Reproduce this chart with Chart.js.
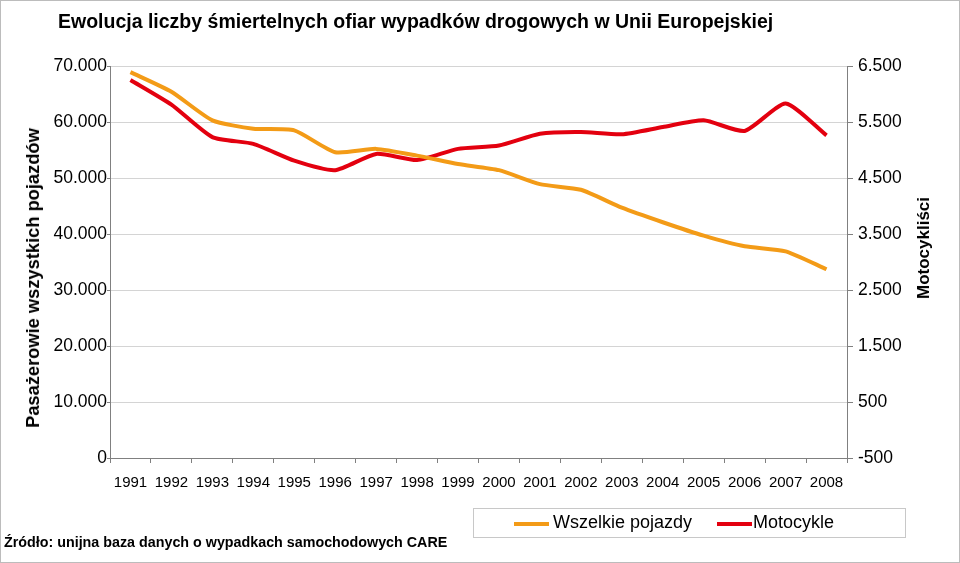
<!DOCTYPE html>
<html>
<head>
<meta charset="utf-8">
<script src="https://cdn.jsdelivr.net/npm/chart.js@4.4.1/dist/chart.umd.min.js"></script>
<style>
  html, body { margin: 0; padding: 0; background: #fff; }
  body { width: 960px; height: 563px; position: relative; overflow: hidden; font-family: "Liberation Sans", Arial, sans-serif; }
  #frame { position: absolute; left: 0; top: 0; width: 958px; height: 561px; border: 1px solid #bcbcbc; pointer-events: none; }
  #c { position: absolute; left: 0; top: 0; }
  .txt { position: absolute; white-space: nowrap; color: #000; }
  #title { left: 58px; top: 10px; font-size: 19.5px; font-weight: bold; }
  #source { left: 4px; top: 534px; font-size: 14.3px; font-weight: bold; }
  #ytitleL { left: 33px; top: 278px; font-size: 18.3px; font-weight: bold; transform: translate(-50%, -50%) rotate(-90deg); }
  #ytitleR { left: 924px; top: 248px; font-size: 17px; font-weight: bold; transform: translate(-50%, -50%) rotate(-90deg); }
  #legend { position: absolute; left: 473px; top: 508px; width: 433px; height: 30px; border: 1px solid #c8c8c8; box-sizing: border-box; }
  .li { position: absolute; top: 3px; font-size: 18px; line-height: 21px; }
  .sw { position: absolute; width: 35px; height: 4px; top: 13px; }
</style>
</head>
<body>
<canvas id="c" width="960" height="563"></canvas>
<div class="txt" id="title">Ewolucja liczby śmiertelnych ofiar wypadków drogowych w Unii Europejskiej</div>
<div class="txt" id="ytitleL">Pasażerowie wszystkich pojazdów</div>
<div class="txt" id="ytitleR">Motocykliści</div>
<div id="legend">
  <div class="sw" style="left:40px;background:#f39b17;"></div>
  <div class="li txt" style="left:79px;">Wszelkie pojazdy</div>
  <div class="sw" style="left:243px;background:#e3000f;"></div>
  <div class="li txt" style="left:279px;">Motocykle</div>
</div>
<div class="txt" id="source">Źródło: unijna baza danych o wypadkach samochodowych CARE</div>
<script>
const years = ['1991','1992','1993','1994','1995','1996','1997','1998','1999','2000','2001','2002','2003','2004','2005','2006','2007','2008'];
const allVehicles = [68900, 65400, 60300, 58800, 58500, 54600, 55200, 54000, 52500, 51400, 48900, 47900, 44700, 42100, 39700, 37800, 36900, 33700];
const motorcycles = [6250, 5810, 5230, 5110, 4810, 4640, 4930, 4820, 5020, 5080, 5290, 5320, 5280, 5410, 5530, 5340, 5830, 5260];
const leftTicks = [0, 10000, 20000, 30000, 40000, 50000, 60000, 70000];
const rightTicks = [-500, 500, 1500, 2500, 3500, 4500, 5500, 6500];

function fmt(v) {
  const neg = v < 0;
  let s = String(Math.abs(Math.round(v)));
  s = s.replace(/\B(?=(\d{3})+(?!\d))/g, '.');
  return (neg ? '-' : '') + s;
}

const FONT = '"Liberation Sans", Arial, sans-serif';

new Chart(document.getElementById('c'), {
  type: 'line',
  data: {
    labels: years,
    datasets: [
      { label: 'Wszelkie pojazdy', data: allVehicles, yAxisID: 'yL', borderColor: '#f39b17', borderWidth: 4, pointRadius: 0, tension: 0.2, fill: false },
      { label: 'Motocykle', data: motorcycles, yAxisID: 'yR', borderColor: '#e3000f', borderWidth: 4, pointRadius: 0, tension: 0.2, fill: false }
    ]
  },
  options: {
    responsive: false,
    animation: false,
    devicePixelRatio: 1,
    layout: { padding: { left: 0, right: 0, top: 66, bottom: 0 } },
    plugins: { legend: { display: false }, title: { display: false }, tooltip: { enabled: false } },
    scales: {
      x: {
        offset: true,
        grid: { offset: true, drawOnChartArea: false, tickLength: 5, color: '#808080' },
        border: { display: true, color: '#808080', width: 1 },
        ticks: { color: '#000', font: { family: FONT, size: 15 }, padding: 11, maxRotation: 0, autoSkip: false },
        afterFit: (s) => { s.height = 105; }
      },
      yL: {
        position: 'left',
        min: 0, max: 70000,
        afterBuildTicks: (s) => { s.ticks = leftTicks.map(v => ({ value: v })); },
        grid: { color: '#d4d4d4', tickLength: 3, tickColor: '#808080' },
        border: { display: true, color: '#808080', width: 1 },
        ticks: { color: '#000', font: { family: FONT, size: 17.5 }, padding: 0, callback: (v) => fmt(v) },
        afterFit: (s) => { s.width = 110; }
      },
      yR: {
        position: 'right',
        min: -500, max: 6500,
        afterBuildTicks: (s) => { s.ticks = rightTicks.map(v => ({ value: v })); },
        grid: { drawOnChartArea: false, tickLength: 6, color: '#808080' },
        border: { display: true, color: '#808080', width: 1 },
        ticks: { color: '#000', font: { family: FONT, size: 17.5 }, padding: 5, callback: (v) => fmt(v) },
        afterFit: (s) => { s.width = 113; }
      }
    }
  }
});
</script>
<div id="frame"></div>
</body>
</html>
